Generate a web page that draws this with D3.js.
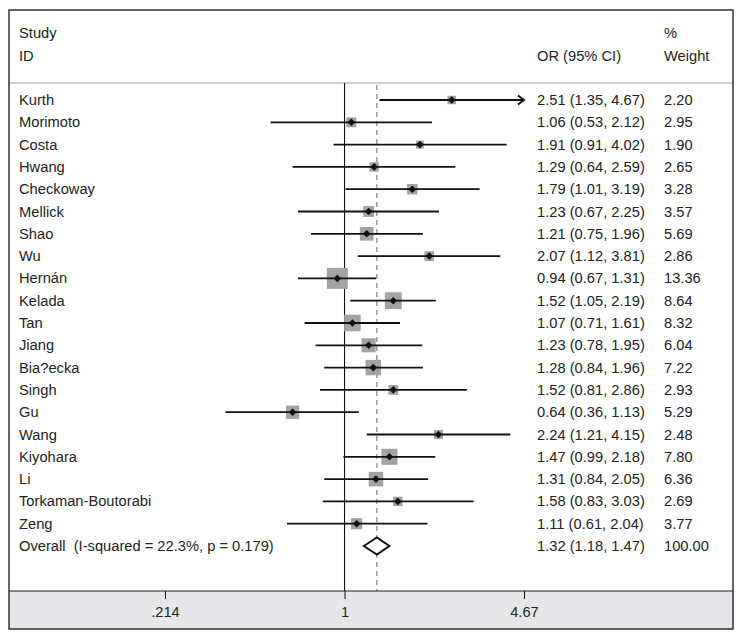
<!DOCTYPE html>
<html>
<head>
<meta charset="utf-8">
<script src="https://cdn.jsdelivr.net/npm/d3@7"></script>
<style>
  body { margin: 0; background: #fff; }
  svg text { font-family: "Liberation Sans", Arial, sans-serif; fill: #222; white-space: pre; }
</style>
</head>
<body>
<svg id="chart" width="744" height="641"></svg>
<script>
const studies = ["Kurth","Morimoto","Costa","Hwang","Checkoway","Mellick","Shao","Wu","Hernán","Kelada","Tan","Jiang","Bia?ecka","Singh","Gu","Wang","Kiyohara","Li","Torkaman-Boutorabi","Zeng"];
const orValues = [2.51,1.06,1.91,1.29,1.79,1.23,1.21,2.07,0.94,1.52,1.07,1.23,1.28,1.52,0.64,2.24,1.47,1.31,1.58,1.11];
const ciLow = [1.35,0.53,0.91,0.64,1.01,0.67,0.75,1.12,0.67,1.05,0.71,0.78,0.84,0.81,0.36,1.21,0.99,0.84,0.83,0.61];
const ciHigh = [4.67,2.12,4.02,2.59,3.19,2.25,1.96,3.81,1.31,2.19,1.61,1.95,1.96,2.86,1.13,4.15,2.18,2.05,3.03,2.04];
const weights = [2.20,2.95,1.90,2.65,3.28,3.57,5.69,2.86,13.36,8.64,8.32,6.04,7.22,2.93,5.29,2.48,7.80,6.36,2.69,3.77];
const overall = {label: "Overall  (I-squared = 22.3%, p = 0.179)", or: 1.32, lo: 1.18, hi: 1.47, w: 100.00};
const tickValues = [0.214, 1, 4.67];
const tickLabels = [".214", "1", "4.67"];

const svg = d3.select("#chart");
const L = 9, R = 733, T = 10, B = 629, axisY = 591, headerY = 83;
const fs = 14.7;

const x = d3.scaleLog().domain([0.214, 4.67]).range([165, 524]);
const y = d3.scaleLinear().domain([0, 20]).range([100, 546]);
const side = d3.scaleSqrt().domain([0, 13.36]).range([0, 21]);

// bottom panel
svg.append("rect").attr("x", L).attr("y", axisY).attr("width", R - L).attr("height", B - axisY).attr("fill", "#e7e7e9");
// header separator
svg.append("line").attr("x1", L).attr("x2", R).attr("y1", headerY).attr("y2", headerY).attr("stroke", "#9a9a9a").attr("stroke-width", 1);

// null line and overall line
svg.append("line").attr("x1", x(1)).attr("x2", x(1)).attr("y1", headerY).attr("y2", axisY).attr("stroke", "#111").attr("stroke-width", 1.1);
svg.append("line").attr("x1", x(overall.or)).attr("x2", x(overall.or)).attr("y1", headerY + 2).attr("y2", axisY)
  .attr("stroke", "#8a8a8a").attr("stroke-width", 1.3).attr("stroke-dasharray", "5,4");

// headers
const hdr = svg.append("g").attr("font-size", fs);
hdr.append("text").attr("x", 19).attr("y", 38).text("Study");
hdr.append("text").attr("x", 19).attr("y", 61).text("ID");
hdr.append("text").attr("x", 537).attr("y", 61).text("OR (95% CI)");
hdr.append("text").attr("x", 664).attr("y", 38).text("%");
hdr.append("text").attr("x", 664).attr("y", 61).text("Weight");

const data = studies.map((s, i) => ({s, or: orValues[i], lo: ciLow[i], hi: ciHigh[i], w: weights[i], i}));
const xmax = x.domain()[1];

const rows = svg.append("g").selectAll("g").data(data).join("g");
// squares
rows.append("rect")
  .attr("x", d => x(d.or) - side(d.w) / 2).attr("y", d => y(d.i) - side(d.w) / 2)
  .attr("width", d => side(d.w)).attr("height", d => side(d.w))
  .attr("fill", "#a3a3a3");
// CI lines
rows.append("line")
  .attr("x1", d => x(d.lo)).attr("x2", d => x(Math.min(d.hi, xmax)))
  .attr("y1", d => y(d.i)).attr("y2", d => y(d.i))
  .attr("stroke", "#111").attr("stroke-width", 1.8);
// arrows for clipped CIs
rows.filter(d => d.hi >= xmax).append("path")
  .attr("d", d => `M${x(xmax) - 6},${y(d.i) - 4.5} L${x(xmax)},${y(d.i)} L${x(xmax) - 6},${y(d.i) + 4.5}`)
  .attr("fill", "none").attr("stroke", "#111").attr("stroke-width", 2);
// point diamonds
rows.append("path")
  .attr("d", d => { const cx = x(d.or), cy = y(d.i), r = 3.8; return `M${cx - r},${cy} L${cx},${cy - r} L${cx + r},${cy} L${cx},${cy + r} Z`; })
  .attr("fill", "#111");
// texts
rows.append("text").attr("x", 19).attr("y", d => y(d.i) + 5).attr("font-size", fs).text(d => d.s);
rows.append("text").attr("x", 537).attr("y", d => y(d.i) + 5).attr("font-size", fs)
  .text(d => `${d.or.toFixed(2)} (${d.lo.toFixed(2)}, ${d.hi.toFixed(2)})`);
rows.append("text").attr("x", 664).attr("y", d => y(d.i) + 5).attr("font-size", fs).text(d => d.w.toFixed(2));

// overall
const oy = y(20);
svg.append("path")
  .attr("d", `M${x(overall.lo)},${oy} L${x(overall.or)},${oy - 8.5} L${x(overall.hi)},${oy} L${x(overall.or)},${oy + 8.5} Z`)
  .attr("fill", "#fff").attr("stroke", "#111").attr("stroke-width", 2);
svg.append("text").attr("x", 19).attr("y", oy + 5).attr("font-size", fs).text(overall.label);
svg.append("text").attr("x", 537).attr("y", oy + 5).attr("font-size", fs)
  .text(`${overall.or.toFixed(2)} (${overall.lo.toFixed(2)}, ${overall.hi.toFixed(2)})`);
svg.append("text").attr("x", 664).attr("y", oy + 5).attr("font-size", fs).text(overall.w.toFixed(2));

// axis
const axis = d3.axisBottom(x).tickValues(tickValues).tickFormat((d, i) => tickLabels[i]).tickSize(8).tickPadding(8);
const ag = svg.append("g").attr("transform", `translate(0,${axisY})`).call(axis);
ag.select(".domain").remove();
ag.selectAll(".tick line").attr("stroke", "#111");
ag.selectAll(".tick text").attr("font-size", fs).attr("font-family", "Liberation Sans, Arial, sans-serif").attr("fill", "#222");
svg.append("line").attr("x1", L).attr("x2", R).attr("y1", axisY).attr("y2", axisY).attr("stroke", "#222").attr("stroke-width", 1.2);

// outer border
svg.append("rect").attr("x", L).attr("y", T).attr("width", R - L).attr("height", B - T)
  .attr("fill", "none").attr("stroke", "#333").attr("stroke-width", 1.5);
</script>
</body>
</html>
